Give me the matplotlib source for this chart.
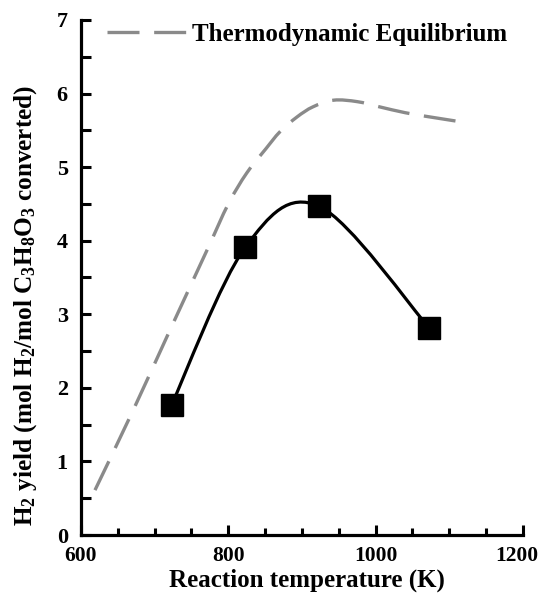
import matplotlib
matplotlib.use("Agg")
import matplotlib.pyplot as plt
from matplotlib.path import Path
from matplotlib.patches import PathPatch
from matplotlib.lines import Line2D
from matplotlib.ticker import MultipleLocator
from matplotlib.transforms import ScaledTranslation

plt.rcParams['font.family'] = ['Liberation Serif', 'DejaVu Serif']
plt.rcParams['font.weight'] = 'bold'
plt.rcParams['mathtext.fontset'] = 'custom'
plt.rcParams['mathtext.rm'] = 'Liberation Serif:bold'
plt.rcParams['mathtext.it'] = 'Liberation Serif:bold:italic'
plt.rcParams['mathtext.bf'] = 'Liberation Serif:bold'

# Data
exp_temp = [723, 823, 923, 1073]
exp_yield = [1.77, 3.91, 4.47, 2.81]

eq_temp = [619, 671, 721, 771, 800, 825, 851, 870, 893, 915, 943, 975, 1005, 1040, 1075, 1126]
eq_yield = [0.61, 1.70, 2.79, 3.87, 4.50, 4.92, 5.25, 5.48, 5.68, 5.82, 5.91, 5.89, 5.82, 5.74, 5.68, 5.60]

x_ticks = [600, 800, 1000, 1200]
y_ticks = [0, 1, 2, 3, 4, 5, 6, 7]


def smooth_path(xs, ys, k=1.0 / 6.0):
    pts = list(zip(xs, ys))
    n = len(pts)
    verts = [pts[0]]
    codes = [Path.MOVETO]
    for i in range(n - 1):
        p0 = pts[i - 1] if i > 0 else pts[i]
        p1 = pts[i]
        p2 = pts[i + 1]
        p3 = pts[i + 2] if i + 2 < n else pts[i + 1]
        c1 = (p1[0] + (p2[0] - p0[0]) * k, p1[1] + (p2[1] - p0[1]) * k)
        c2 = (p2[0] - (p3[0] - p1[0]) * k, p2[1] - (p3[1] - p1[1]) * k)
        verts += [c1, c2, p2]
        codes += [Path.CURVE4] * 3
    return Path(verts, codes)


fig = plt.figure(figsize=(5.41, 5.93), dpi=100)
ax = fig.add_axes([0.1497, 0.0978, 0.817, 0.8685])

eq_color = '#8a8a8a'
eq_dash = (9.6, 4.4)
eq_lw = 2.4

# Thermodynamic equilibrium (dashed grey, smoothed)
ax.add_patch(PathPatch(smooth_path(eq_temp, eq_yield), facecolor='none',
                       edgecolor=eq_color, lw=eq_lw, linestyle=(0, eq_dash),
                       capstyle='butt', transform=ax.transData, zorder=2))

# Smoothed experimental curve
ax.add_patch(PathPatch(smooth_path(exp_temp, exp_yield, k=1.0 / 6.0), facecolor='none',
                       edgecolor='black', lw=2.3, transform=ax.transData, zorder=3))
ax.plot(exp_temp, exp_yield, linestyle='none', marker='s', markersize=16.5,
        color='black', zorder=4)

ax.set_xlim(600, 1200)
ax.set_ylim(0, 7)
ax.set_xticks(x_ticks)
ax.set_yticks(y_ticks)
ax.xaxis.set_minor_locator(MultipleLocator(50))
ax.yaxis.set_minor_locator(MultipleLocator(0.5))

for s in ['top', 'right']:
    ax.spines[s].set_visible(False)
for s in ['left', 'bottom']:
    ax.spines[s].set_linewidth(2.3)

ax.tick_params(axis='x', which='major', direction='in', length=7, width=2.2,
               labelsize=15.5, pad=8)
ax.tick_params(axis='x', which='minor', direction='in', length=5, width=2.2)
ax.tick_params(axis='y', which='major', direction='in', length=7, width=2.2,
               labelsize=16, pad=9.5)
ax.tick_params(axis='y', which='minor', direction='in', length=7, width=2.2)
for lab in ax.get_xticklabels() + ax.get_yticklabels():
    lab.set_fontweight('bold')

# keep the last x tick label inside the figure (as in the reference)
last = ax.xaxis.get_major_ticks()[-1].label1
last.set_transform(last.get_transform() + ScaledTranslation(-4.5 / 72, 0, fig.dpi_scale_trans))

ax.set_xlabel('Reaction temperature (K)', fontsize=18, fontweight='bold')
ax.set_ylabel('H$_2$ yield (mol H$_2$/mol C$_3$H$_8$O$_3$ converted)',
              fontsize=18.2, fontweight='bold')
ax.xaxis.set_label_coords(0.512, -0.066)
ax.yaxis.set_label_coords(-0.095, 0.445)

handle = Line2D([], [], color=eq_color, lw=eq_lw, dashes=eq_dash,
                solid_capstyle='butt', dash_capstyle='butt')
ax.legend([handle], ['Thermodynamic Equilibrium'], loc='center left',
          bbox_to_anchor=(0.058, 0.972), frameon=False,
          borderpad=0, borderaxespad=0, handlelength=3.2, handletextpad=0.2,
          prop={'size': 18, 'weight': 'bold'})

fig.savefig('out.png', dpi=100)
